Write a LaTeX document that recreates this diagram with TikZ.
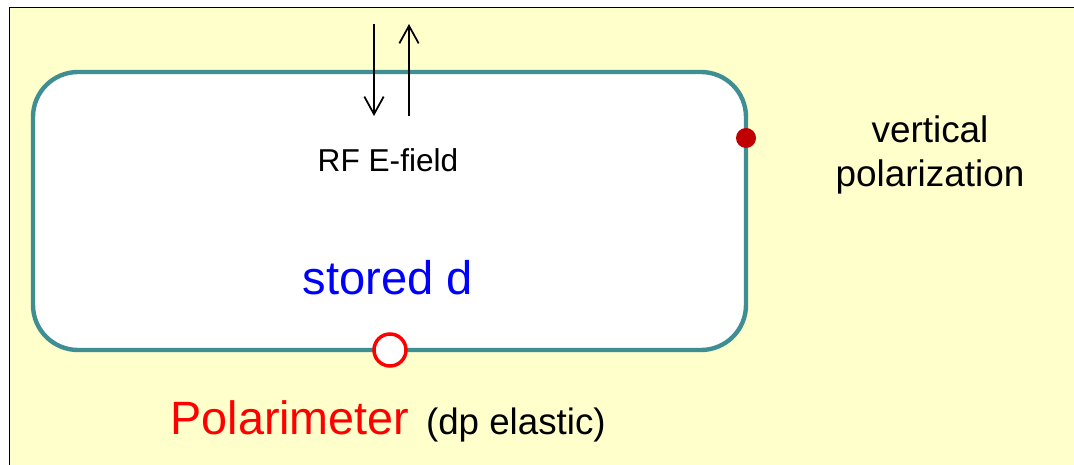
\documentclass[tikz,border=0pt]{standalone}
\usepackage{fontspec}
\setsansfont{Liberation Sans}
\usetikzlibrary{arrows.meta}
\definecolor{paleyellow}{HTML}{FFFFCC}
\definecolor{ringteal}{HTML}{3F8E94}
\definecolor{darkred}{HTML}{C00000}

\begin{document}
\begin{tikzpicture}[font=\sffamily]
\def\r{0.9}
\useasboundingbox (0,0) rectangle (21.48,9.3);
\fill[paleyellow] (0.18,-0.2) rectangle (21.7,9.16);
\draw[thin] (0.18,-0.2) -- (0.18,9.16) -- (21.7,9.16);
% storage ring
\draw[ringteal,line width=2.5pt,fill=white,rounded corners=\r cm] (0.66,2.3) rectangle (14.92,7.86);
% rf field
\coordinate (d1) at (7.48,8.82);
\coordinate (d2) at (7.48,6.98);
\coordinate (u1) at (8.18,6.98);
\coordinate (u2) at (8.18,8.82);
\draw[line width=1pt,-{Straight Barb[length=10pt,width=11pt]}] (d1) -- (d2);
\draw[line width=1pt,-{Straight Barb[length=10pt,width=11pt]}] (u1) -- (u2);
\node (rf) at (7.76,6.1) {\fontsize{18}{21}\selectfont RF E-field};
\node[blue] (beam) at (7.76,3.74) {\fontsize{26.8}{31}\selectfont stored d};
% polarization
\fill[darkred] (14.92,6.54) circle (0.2);
\node[align=center,font=\sffamily\fontsize{21}{25.5}\selectfont] (vert) at (18.6,6.2) {vertical\\polarization};
% polarimeter
\draw[red,line width=2pt,fill=white] (7.8,2.3) circle (0.32);
\node[red] (pol) at (5.8,0.94) {\fontsize{26.6}{31}\selectfont Polarimeter};
\node[anchor=base west,inner sep=0pt] (dp) at ([xshift=0.2cm]pol.base east) {\fontsize{20.9}{25}\selectfont (dp elastic)};
\end{tikzpicture}
\end{document}
